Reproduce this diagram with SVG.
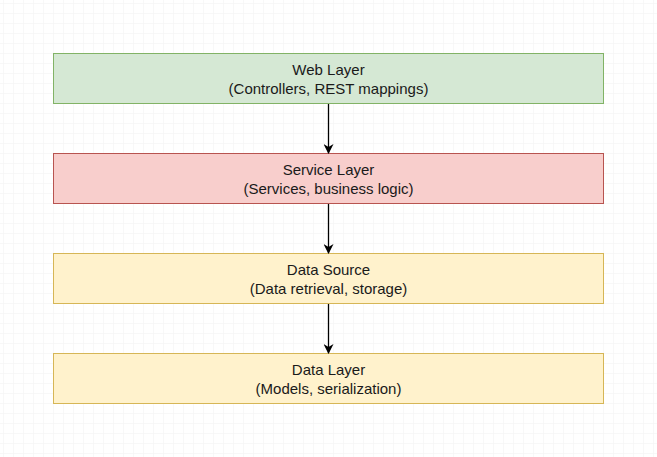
<svg xmlns="http://www.w3.org/2000/svg" width="657" height="457" viewBox="0 0 657 457">
<defs>
<pattern id="grid" x="3" y="3" width="10" height="10" patternUnits="userSpaceOnUse">
<path d="M0 0H10M0 0V10" fill="none" stroke="#f2f2f2" stroke-width="1"/>
</pattern>
<marker id="arr" viewBox="0 0 10 10" refX="9" refY="5" markerWidth="10" markerHeight="10" markerUnits="userSpaceOnUse" orient="auto">
<path d="M0 0L10 5L0 10L3 5Z" fill="#000"/>
</marker>
</defs>
<style>
text{font-family:"Liberation Sans",Arial,sans-serif;font-size:15px;fill:#1a1a1a;text-anchor:middle}
.g{fill:#d5e8d4;stroke:#82b366}
.r{fill:#f8cecc;stroke:#b85450}
.y{fill:#fff2cc;stroke:#d6b656}
.c{stroke:#000;stroke-width:1.3;fill:none;marker-end:url(#arr)}
</style>
<rect width="657" height="457" fill="#fff"/>
<rect width="657" height="457" fill="url(#grid)"/>
<g id="web"><rect class="g" x="53.5" y="53.5" width="550" height="50"/><text x="328.5" y="75">Web Layer</text><text x="328.5" y="94">(Controllers, REST mappings)</text></g>
<g id="service"><rect class="r" x="53.5" y="153.5" width="550" height="50"/><text x="328.5" y="175">Service Layer</text><text x="328.5" y="194">(Services, business logic)</text></g>
<g id="datasource"><rect class="y" x="53.5" y="253.5" width="550" height="50"/><text x="328.5" y="275">Data Source</text><text x="328.5" y="294">(Data retrieval, storage)</text></g>
<g id="datalayer"><rect class="y" x="53.5" y="353.5" width="550" height="50"/><text x="328.5" y="375">Data Layer</text><text x="328.5" y="394">(Models, serialization)</text></g>
<g id="connectors">
<line class="c" x1="328.5" y1="104" x2="328.5" y2="153"/>
<line class="c" x1="328.5" y1="204" x2="328.5" y2="253"/>
<line class="c" x1="328.5" y1="304" x2="328.5" y2="353"/>
</g>
</svg>
